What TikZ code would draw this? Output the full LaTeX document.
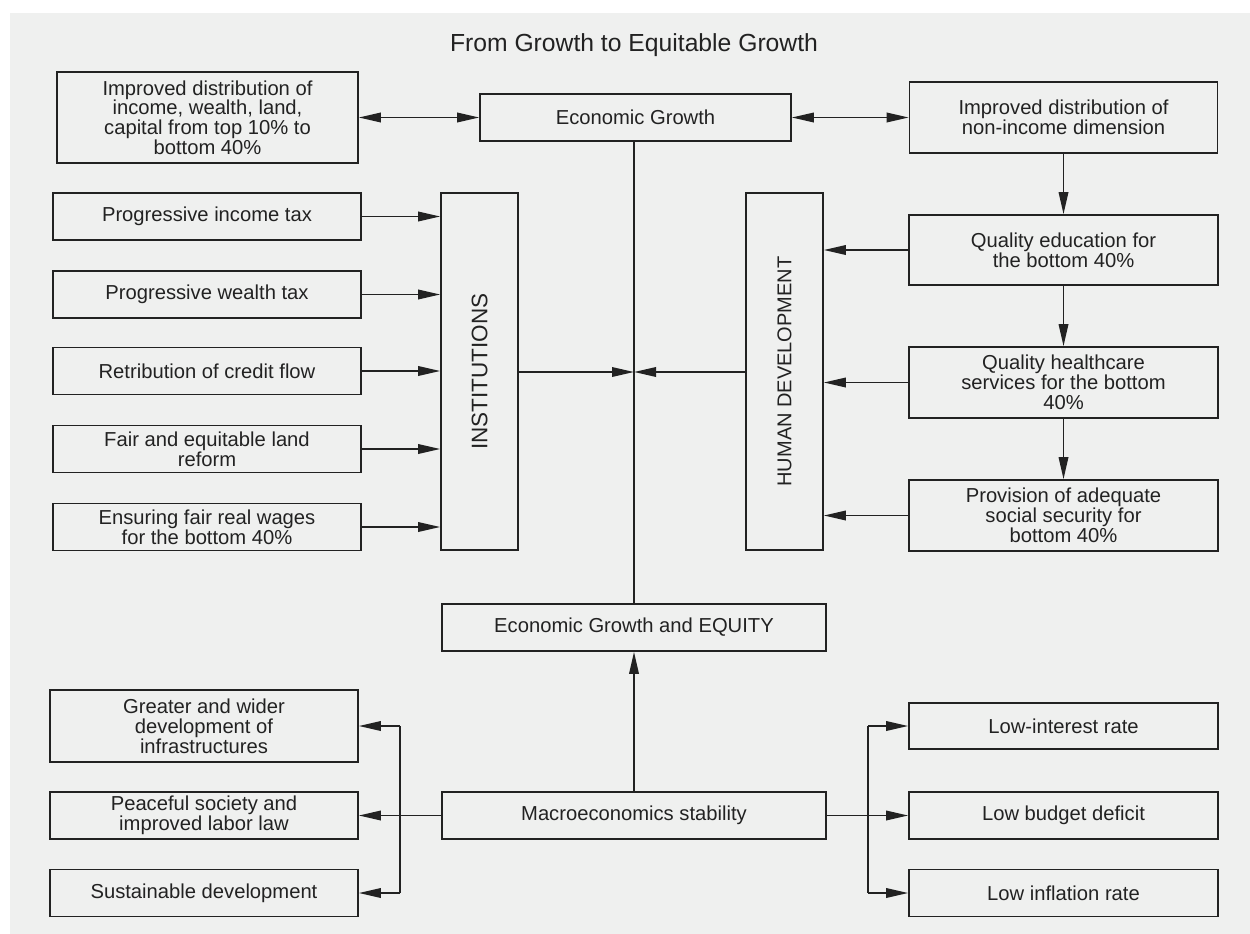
\documentclass[tikz,border=0pt]{standalone}
\usepackage{fontspec}
\setmainfont{Liberation Sans}
\usetikzlibrary{arrows.meta}
\definecolor{bgc}{HTML}{EFF0EF}
\definecolor{ink}{HTML}{222222}
\begin{document}
\begin{tikzpicture}[x=1pt,y=-1pt,
  box/.style={draw=ink,line width=1.6pt,fill=bgc,text=ink,align=center,inner sep=2pt,
    font=\fontsize{20.2}{19.8}\selectfont},
  vbox/.style={draw=ink,line width=1.6pt,fill=bgc,text=ink,inner sep=0pt},
  conn/.style={draw=ink,line width=1.8pt},
  arr/.style={conn,-{Triangle[length=22pt,width=9.5pt]}},
  darr/.style={conn,{Triangle[length=22pt,width=9.5pt]}-{Triangle[length=22pt,width=9.5pt]}},
  vtext/.style={rotate=90,text=ink}
]
\useasboundingbox (0,0) rectangle (1250,934);
\fill[white] (0,0) rectangle (1250,934);
\fill[bgc] (10,13) rectangle (1250,934);

\node[text=ink,font=\fontsize{24.7}{25}\selectfont] (title) at (634,45) {From Growth to Equitable Growth};

% top row
\node[box,minimum width=301pt,minimum height=91pt] (A) at (207.5,117.5)
  {Improved distribution of\\income, wealth, land,\\capital from top 10\% to\\bottom 40\%};
\node[box,minimum width=311pt,minimum height=47pt] (EG) at (635.5,117.5) {Economic Growth};
\node[box,minimum width=308pt,minimum height=71pt] (B) at (1063.5,117.5)
  {Improved distribution of\\non-income dimension};

% left column
\node[box,minimum width=308pt,minimum height=47pt] (l1) at (207,216.5) {Progressive income tax};
\node[box,minimum width=308pt,minimum height=47pt] (l2) at (207,294.5) {Progressive wealth tax};
\node[box,minimum width=308pt,minimum height=47pt] (l3) at (207,371) {Retribution of credit flow};
\node[box,minimum width=308pt,minimum height=47pt] (l4) at (207,449) {Fair and equitable land\\reform};
\node[box,minimum width=308pt,minimum height=47pt] (l5) at (207,527) {Ensuring fair real wages\\for the bottom 40\%};

% vertical boxes
\node[vbox,minimum width=77pt,minimum height=357pt] (inst) at (479.5,371.5) {};
\node[vtext,font=\fontsize{22.5}{22}\selectfont] (instt) at (inst.center) {INSTITUTIONS};
\node[vbox,minimum width=77pt,minimum height=357pt] (hd) at (784.5,371.5) {};
\node[vtext,font=\fontsize{20}{20}\selectfont] (hdt) at (hd.center) {HUMAN DEVELOPMENT};

% right column
\node[box,minimum width=309pt,minimum height=70pt] (r1) at (1063.5,250) {Quality education for\\the bottom 40\%};
\node[box,minimum width=309pt,minimum height=71pt] (r2) at (1063.5,382.5) {Quality healthcare\\services for the bottom\\40\%};
\node[box,minimum width=309pt,minimum height=71pt] (r3) at (1063.5,515.5) {Provision of adequate\\social security for\\bottom 40\%};

% middle
\node[box,minimum width=384pt,minimum height=47pt] (EGE) at (634,627.5) {Economic Growth and EQUITY};
\node[box,minimum width=384pt,minimum height=47pt] (mac) at (634,815.5) {Macroeconomics stability};

% bottom left
\node[box,minimum width=308pt,minimum height=72pt] (g1) at (204,726) {Greater and wider\\development of\\infrastructures};
\node[box,minimum width=308pt,minimum height=47pt] (g2) at (204,815.5) {Peaceful society and\\improved labor law};
\node[box,minimum width=308pt,minimum height=47pt] (g3) at (204,893) {Sustainable development};

% bottom right
\node[box,minimum width=309pt,minimum height=46pt] (k1) at (1063.5,726) {Low-interest rate};
\node[box,minimum width=309pt,minimum height=47pt] (k2) at (1063.5,815.5) {Low budget deficit};
\node[box,minimum width=309pt,minimum height=47pt] (k3) at (1063.5,893) {Low inflation rate};

% connectors
\coordinate (hub) at (634,372);
\draw[darr] (A.east) -- (EG.west);
\draw[darr] (EG.east) -- (B.west);
\draw[conn] (EG.south -| hub) -- (EGE.north -| hub);

\foreach \n in {l1,l2,l3,l4,l5} { \draw[arr] (\n.east) -- (\n.east -| inst.west); }
\draw[arr] (inst.east |- hub) -- (hub);
\draw[arr] (hd.west |- hub) -- (hub);
\foreach \n in {r1,r2,r3} { \draw[arr] (\n.west) -- (\n.west -| hd.east); }

\draw[arr] (B.south) -- (r1.north);
\draw[arr] (r1.south) -- (r2.north);
\draw[arr] (r2.south) -- (r3.north);

\draw[arr] (mac.north) -- (EGE.south);

\coordinate (lb1) at (400,726);
\coordinate (lb3) at (400,893);
\draw[conn] (lb1) -- (lb3);
\draw[conn] (mac.west) -- (mac.west -| lb1);
\draw[arr] (lb1) -- (g1.east);
\draw[arr] (mac.west -| lb1) -- (g2.east);
\draw[arr] (lb3) -- (g3.east);

\coordinate (rb1) at (868,726);
\coordinate (rb3) at (868,893);
\draw[conn] (rb1) -- (rb3);
\draw[conn] (mac.east) -- (mac.east -| rb1);
\draw[arr] (rb1) -- (k1.west);
\draw[arr] (mac.east -| rb1) -- (k2.west);
\draw[arr] (rb3) -- (k3.west);
\end{tikzpicture}
\end{document}
